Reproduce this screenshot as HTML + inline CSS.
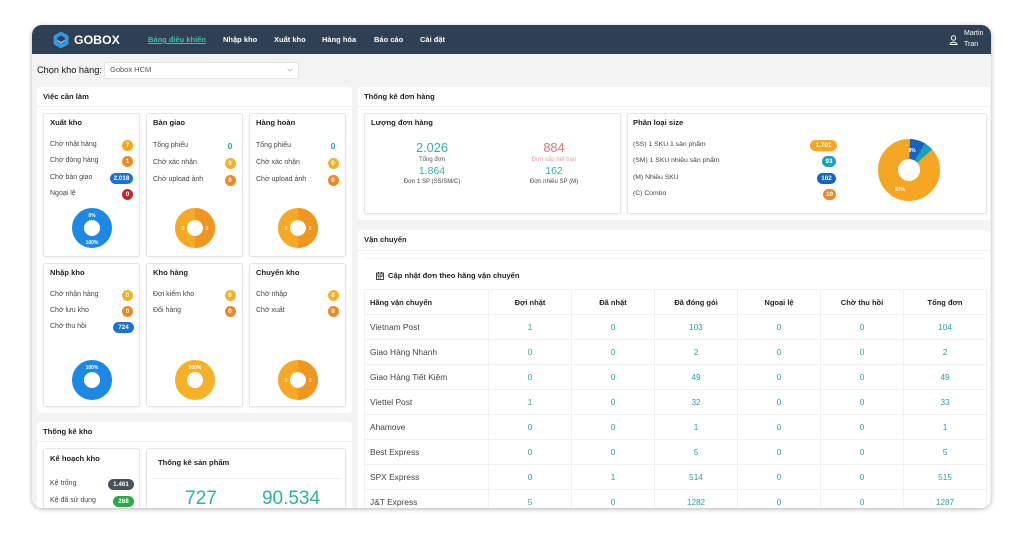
<!DOCTYPE html>
<html><head><meta charset="utf-8">
<style>
*{box-sizing:border-box;margin:0;padding:0}
body{width:1023px;height:533px;background:#fff;position:relative;overflow:hidden;font-family:"Liberation Sans","Noto Sans CJK SC",sans-serif;color:#333}
.frame{position:absolute;left:32px;top:25px;width:959px;height:483px;border-radius:10px;overflow:hidden;box-shadow:0 1px 5px rgba(0,0,0,.3);background:#f3f3f4}
.in{position:absolute;left:-32px;top:-25px;width:1023px;height:533px}
.a{position:absolute}
.t{position:absolute;white-space:nowrap;line-height:12px;height:12px}
.panel{position:absolute;background:#fff;border-radius:3px}
.card{position:absolute;background:#fff;border:1px solid #e4e4e4;border-radius:3px;box-shadow:0 1px 2px rgba(0,0,0,.06)}
.h{font-weight:bold;font-size:7.6px;color:#222}
.lbl{font-size:7px;color:#444}
.b{position:absolute;height:11px;border-radius:6px;color:#fff;font-size:6.3px;line-height:11px;text-align:center;font-weight:bold}
.nav{font-weight:bold;font-size:7.5px;color:#fff;top:34px}
.sep{position:absolute;height:1px;background:#efefef}
.teal{color:#26a69a}
table{position:absolute;left:364px;top:289px;width:622px;border-collapse:collapse;table-layout:fixed}
td,th{height:25px;border:1px solid #f1f1f1;text-align:center;vertical-align:middle;font-size:8.2px;white-space:nowrap}
th{font-weight:bold;font-size:7.5px;color:#222}
td{color:#26a69a}
td.n,th.n{text-align:left;padding-left:5px;color:#444;font-size:8.4px}
th.n{color:#222;font-size:7.5px}
</style></head>
<body>
<div class="frame"><div class="in">

<!-- header -->
<div class="a" style="left:32px;top:25px;width:959px;height:29px;background:#2f4055"></div>
<svg class="a" style="left:52px;top:31px" width="18" height="18" viewBox="0 0 18 18">
<polygon points="9,0.5 16.5,4.8 16.5,13.2 9,17.5 1.5,13.2 1.5,4.8" fill="#2f9be3"/>
<polygon points="9,4.5 12.8,6.7 12.8,11.3 9,13.5 5.2,11.3 5.2,6.7" fill="#2f4055"/>
<path d="M5.2,9.5 L9,12 L12.8,9.5" stroke="#7cc7f3" stroke-width="1.6" fill="none"/>
</svg>
<div class="t" style="left:74px;top:33px;font-size:12.3px;line-height:14px;height:14px;font-weight:bold;color:#fff">GOBOX</div>
<div class="t nav" style="left:148px;color:#3dbfa4;text-decoration:underline">Bảng điều khiển</div>
<div class="t nav" style="left:223px">Nhập kho</div>
<div class="t nav" style="left:274px">Xuất kho</div>
<div class="t nav" style="left:322px">Hàng hóa</div>
<div class="t nav" style="left:374px">Báo cáo</div>
<div class="t nav" style="left:420px">Cài đặt</div>
<svg class="a" style="left:949px;top:35px" width="9" height="10" viewBox="0 0 9 10">
<circle cx="4.5" cy="3" r="2.2" fill="none" stroke="#fff" stroke-width="1"/>
<path d="M1,9.5 C1,6.5 8,6.5 8,9.5 Z" fill="none" stroke="#fff" stroke-width="1"/>
</svg>
<div class="t" style="left:964px;top:28px;font-size:7px;color:#fff">Martin</div>
<div class="t" style="left:964px;top:39px;font-size:7px;color:#fff">Tran</div>

<!-- select -->
<div class="t" style="left:37px;top:64px;font-size:9.2px;color:#111">Chọn kho hàng:</div>
<div class="a" style="left:104px;top:62px;width:195px;height:17px;background:#fff;border:1px solid #e3e3e3;border-radius:3px"></div>
<div class="t" style="left:110px;top:64px;font-size:7.5px;color:#555">Gobox HCM</div>
<svg class="a" style="left:287px;top:68px" width="6" height="4"><polyline points="0.5,0.5 3,3 5.5,0.5" fill="none" stroke="#bbb" stroke-width="0.8"/></svg>

<!-- Việc cần làm -->
<div class="panel" style="left:37px;top:87px;width:315px;height:326px"></div>
<div class="t h" style="left:43px;top:91px">Việc cần làm</div>
<div class="sep" style="left:37px;top:106px;width:315px"></div>

<div class="card" style="left:43px;top:113px;width:97px;height:144px"></div>
<div class="card" style="left:146px;top:113px;width:97px;height:144px"></div>
<div class="card" style="left:249px;top:113px;width:97px;height:144px"></div>
<div class="card" style="left:43px;top:263px;width:97px;height:144px"></div>
<div class="card" style="left:146px;top:263px;width:97px;height:144px"></div>
<div class="card" style="left:249px;top:263px;width:97px;height:144px"></div>

<div class="t h" style="left:50px;top:117px">Xuất kho</div>
<div class="t lbl" style="left:50px;top:139px">Chờ nhặt hàng</div>
<div class="b" style="left:122px;top:139.5px;width:11px;background:#f5a623">7</div>
<div class="t lbl" style="left:50px;top:155px">Chờ đóng hàng</div>
<div class="b" style="left:122px;top:155.5px;width:11px;background:#e8892a">1</div>
<div class="t lbl" style="left:50px;top:172px">Chờ bàn giao</div>
<div class="b" style="left:110px;top:172.5px;width:23px;background:#1a73d0">2.018</div>
<div class="t lbl" style="left:50px;top:188px">Ngoại lệ</div>
<div class="b" style="left:122px;top:188.5px;width:11px;background:#c62828">0</div>
<svg class="a" style="left:71.5px;top:207.5px" width="40" height="40" viewBox="0 0 40 40">
<circle cx="20" cy="20" r="14" fill="none" stroke="#1e88e5" stroke-width="12"/>
<text x="20" y="9" font-size="5" font-weight="bold" fill="#fff" text-anchor="middle" font-family="Liberation Sans">0%</text>
<text x="20" y="36" font-size="5" font-weight="bold" fill="#fff" text-anchor="middle" font-family="Liberation Sans">100%</text>
</svg>

<div class="t h" style="left:153px;top:117px">Bàn giao</div>
<div class="t lbl" style="left:153px;top:140px">Tổng phiếu</div>
<div class="t teal" style="left:224px;top:140px;width:12px;text-align:center;font-size:8.5px;font-weight:bold">0</div>
<div class="t lbl" style="left:153px;top:157px">Chờ xác nhận</div>
<div class="b" style="left:224.5px;top:157.5px;width:11px;background:#f3b128">0</div>
<div class="t lbl" style="left:153px;top:174px">Chờ upload ảnh</div>
<div class="b" style="left:224.5px;top:174.5px;width:11px;background:#e8892a">0</div>
<svg class="a" style="left:174.5px;top:207.5px" width="40" height="40" viewBox="0 0 40 40">
<circle cx="20" cy="20" r="14" fill="none" stroke="#f6a925" stroke-width="12"/>
<circle cx="20" cy="20" r="14" fill="none" stroke="#f0951f" stroke-width="12" stroke-dasharray="43.98 100" transform="rotate(-90 20 20)"/>
<text x="8" y="22" font-size="5" fill="#fff" text-anchor="middle" font-family="Liberation Sans">0</text>
<text x="32" y="22" font-size="5" fill="#fff" text-anchor="middle" font-family="Liberation Sans">0</text>
</svg>

<div class="t h" style="left:256px;top:117px">Hàng hoàn</div>
<div class="t lbl" style="left:256px;top:140px">Tổng phiếu</div>
<div class="t teal" style="left:327px;top:140px;width:12px;text-align:center;font-size:8.5px;font-weight:bold">0</div>
<div class="t lbl" style="left:256px;top:157px">Chờ xác nhận</div>
<div class="b" style="left:327.5px;top:157.5px;width:11px;background:#f3b128">0</div>
<div class="t lbl" style="left:256px;top:174px">Chờ upload ảnh</div>
<div class="b" style="left:327.5px;top:174.5px;width:11px;background:#e8892a">0</div>
<svg class="a" style="left:277.5px;top:207.5px" width="40" height="40" viewBox="0 0 40 40">
<circle cx="20" cy="20" r="14" fill="none" stroke="#f6a925" stroke-width="12"/>
<circle cx="20" cy="20" r="14" fill="none" stroke="#f0951f" stroke-width="12" stroke-dasharray="43.98 100" transform="rotate(-90 20 20)"/>
<text x="8" y="22" font-size="5" fill="#fff" text-anchor="middle" font-family="Liberation Sans">0</text>
<text x="32" y="22" font-size="5" fill="#fff" text-anchor="middle" font-family="Liberation Sans">0</text>
</svg>

<div class="t h" style="left:50px;top:267px">Nhập kho</div>
<div class="t lbl" style="left:50px;top:289px">Chờ nhận hàng</div>
<div class="b" style="left:122px;top:289.5px;width:11px;background:#f3b128">0</div>
<div class="t lbl" style="left:50px;top:305px">Chờ lưu kho</div>
<div class="b" style="left:122px;top:305.5px;width:11px;background:#e8892a">0</div>
<div class="t lbl" style="left:50px;top:321px">Chờ thu hồi</div>
<div class="b" style="left:113px;top:321.5px;width:21px;background:#1a73d0">724</div>
<svg class="a" style="left:71.5px;top:359.5px" width="40" height="40" viewBox="0 0 40 40">
<circle cx="20" cy="20" r="14" fill="none" stroke="#1e88e5" stroke-width="12"/>
<text x="20" y="9" font-size="5" font-weight="bold" fill="#fff" text-anchor="middle" font-family="Liberation Sans">100%</text>
</svg>

<div class="t h" style="left:153px;top:267px">Kho hàng</div>
<div class="t lbl" style="left:153px;top:289px">Đợi kiểm kho</div>
<div class="b" style="left:224.5px;top:289.5px;width:11px;background:#f3b128">0</div>
<div class="t lbl" style="left:153px;top:305px">Đổi hàng</div>
<div class="b" style="left:224.5px;top:305.5px;width:11px;background:#e8892a">0</div>
<svg class="a" style="left:174.5px;top:359.5px" width="40" height="40" viewBox="0 0 40 40">
<circle cx="20" cy="20" r="14" fill="none" stroke="#f5b12a" stroke-width="12"/>
<text x="20" y="9" font-size="5" font-weight="bold" fill="#fff" text-anchor="middle" font-family="Liberation Sans">100%</text>
</svg>

<div class="t h" style="left:256px;top:267px">Chuyển kho</div>
<div class="t lbl" style="left:256px;top:289px">Chờ nhập</div>
<div class="b" style="left:327.5px;top:289.5px;width:11px;background:#f3b128">0</div>
<div class="t lbl" style="left:256px;top:305px">Chờ xuất</div>
<div class="b" style="left:327.5px;top:305.5px;width:11px;background:#e8892a">0</div>
<svg class="a" style="left:277.5px;top:359.5px" width="40" height="40" viewBox="0 0 40 40">
<circle cx="20" cy="20" r="14" fill="none" stroke="#f6a925" stroke-width="12"/>
<circle cx="20" cy="20" r="14" fill="none" stroke="#f0951f" stroke-width="12" stroke-dasharray="43.98 100" transform="rotate(-90 20 20)"/>
<text x="8" y="22" font-size="5" fill="#fff" text-anchor="middle" font-family="Liberation Sans">0</text>
<text x="32" y="22" font-size="5" fill="#fff" text-anchor="middle" font-family="Liberation Sans">0</text>
</svg>

<!-- Thống kê kho -->
<div class="panel" style="left:37px;top:422px;width:315px;height:110px"></div>
<div class="t h" style="left:43px;top:426px">Thống kê kho</div>
<div class="sep" style="left:37px;top:441px;width:315px"></div>
<div class="card" style="left:43px;top:448px;width:97px;height:80px"></div>
<div class="t h" style="left:50px;top:453px">Kế hoạch kho</div>
<div class="t lbl" style="left:50px;top:478px">Kệ trống</div>
<div class="b" style="left:108px;top:478.5px;width:26px;background:#4a5057">1.461</div>
<div class="t lbl" style="left:50px;top:495px">Kệ đã sử dụng</div>
<div class="b" style="left:113px;top:495.5px;width:21px;background:#2aa84a">268</div>
<div class="card" style="left:146px;top:448px;width:200px;height:80px"></div>
<div class="t h" style="left:158px;top:457px">Thống kê sản phẩm</div>
<div class="sep" style="left:151px;top:478px;width:190px"></div>
<div class="t" style="left:161px;top:488px;width:80px;text-align:center;font-size:19px;line-height:22px;height:22px;color:#2bb3a0">727</div>
<div class="t" style="left:241px;top:488px;width:100px;text-align:center;font-size:19px;line-height:22px;height:22px;color:#2bb3a0">90.534</div>

<!-- Thống kê đơn hàng -->
<div class="panel" style="left:358px;top:87px;width:632px;height:133px"></div>
<div class="t h" style="left:364px;top:91px">Thống kê đơn hàng</div>
<div class="sep" style="left:358px;top:106px;width:632px"></div>
<div class="card" style="left:364px;top:113px;width:257px;height:101px"></div>
<div class="t h" style="left:371px;top:117px">Lượng đơn hàng</div>
<div class="t" style="left:392px;top:141px;width:80px;text-align:center;font-size:12.8px;line-height:14px;height:14px;color:#3aaea0">2.026</div>
<div class="t" style="left:392px;top:154px;width:80px;text-align:center;font-size:6px;color:#555">Tổng đơn</div>
<div class="t" style="left:392px;top:165px;width:80px;text-align:center;font-size:10.5px;line-height:12px;color:#3aaea0">1.864</div>
<div class="t" style="left:382px;top:176px;width:100px;text-align:center;font-size:6px;color:#444">Đơn 1 SP (SS/SM/C)</div>
<div class="t" style="left:514px;top:141px;width:80px;text-align:center;font-size:12.8px;line-height:14px;height:14px;color:#d97b7b">884</div>
<div class="t" style="left:514px;top:154px;width:80px;text-align:center;font-size:6px;color:#eb9a9a">Đơn sắp hết hạn</div>
<div class="t" style="left:514px;top:165px;width:80px;text-align:center;font-size:10.5px;line-height:12px;color:#3aaea0">162</div>
<div class="t" style="left:504px;top:176px;width:100px;text-align:center;font-size:6px;color:#444">Đơn nhiều SP (M)</div>

<div class="card" style="left:627px;top:113px;width:360px;height:101px"></div>
<div class="t h" style="left:633px;top:117px">Phân loại size</div>
<div class="t lbl" style="left:633px;top:139px;font-size:6.8px">(SS) 1 SKU 1 sản phẩm</div>
<div class="b" style="left:810px;top:139.5px;width:27px;background:#f5a623">1.701</div>
<div class="t lbl" style="left:633px;top:155px;font-size:6.8px">(SM) 1 SKU nhiều sản phẩm</div>
<div class="b" style="left:822px;top:155.5px;width:14px;background:#17a2b8">93</div>
<div class="t lbl" style="left:633px;top:172px;font-size:6.8px">(M) Nhiều SKU</div>
<div class="b" style="left:817px;top:172.5px;width:19px;background:#1565c0">162</div>
<div class="t lbl" style="left:633px;top:188px;font-size:6.8px">(C) Combo</div>
<div class="b" style="left:823px;top:188.5px;width:13px;background:#e8892a">10</div>
<svg class="a" style="left:878px;top:139px" width="62" height="62" viewBox="0 0 62 62">
<circle cx="31" cy="31" r="21" fill="none" stroke="#f5a623" stroke-width="20"/>
<circle cx="31" cy="31" r="21" fill="none" stroke="#1565c0" stroke-width="20" stroke-dasharray="0 0.7 10.8 200" transform="rotate(-90 31 31)"/>
<circle cx="31" cy="31" r="21" fill="none" stroke="#17a2b8" stroke-width="20" stroke-dasharray="0 11.5 6.2 200" transform="rotate(-90 31 31)"/>
<text x="34" y="13" font-size="5" font-weight="bold" fill="#fff" text-anchor="middle" font-family="Liberation Sans">8%</text>
<text x="22" y="52" font-size="5" font-weight="bold" fill="#fff" text-anchor="middle" font-family="Liberation Sans">87%</text>
</svg>

<!-- Vận chuyển -->
<div class="panel" style="left:358px;top:230px;width:632px;height:300px"></div>
<div class="t h" style="left:364px;top:234px">Vận chuyển</div>
<div class="sep" style="left:358px;top:250px;width:632px"></div>
<div class="sep" style="left:364px;top:258px;width:622px;background:#f3f3f3"></div>
<svg class="a" style="left:376px;top:272px" width="8" height="8" viewBox="0 0 8 8">
<rect x="0.5" y="1" width="7" height="6.5" fill="none" stroke="#333" stroke-width="0.9"/>
<line x1="0.5" y1="3" x2="7.5" y2="3" stroke="#333" stroke-width="0.9"/>
<line x1="2.5" y1="0" x2="2.5" y2="2" stroke="#333" stroke-width="0.9"/>
<line x1="5.5" y1="0" x2="5.5" y2="2" stroke="#333" stroke-width="0.9"/>
<rect x="1.8" y="4" width="1.2" height="1" fill="#333"/><rect x="3.6" y="4" width="1.2" height="1" fill="#333"/><rect x="5.2" y="4" width="1.2" height="1" fill="#333"/>
<rect x="1.8" y="5.6" width="1.2" height="1" fill="#333"/><rect x="3.6" y="5.6" width="1.2" height="1" fill="#333"/>
</svg>
<div class="t h" style="left:388px;top:270px">Cập nhật đơn theo hãng vận chuyển</div>

<table>
<colgroup><col style="width:124px"><col style="width:83px"><col style="width:83px"><col style="width:83px"><col style="width:83px"><col style="width:83px"><col style="width:83px"></colgroup>
<tr><th class="n">Hãng vận chuyển</th><th>Đợi nhặt</th><th>Đã nhặt</th><th>Đã đóng gói</th><th>Ngoại lệ</th><th>Chờ thu hồi</th><th>Tổng đơn</th></tr>
<tr><td class="n">Vietnam Post</td><td>1</td><td>0</td><td>103</td><td>0</td><td>0</td><td>104</td></tr>
<tr><td class="n">Giao Hàng Nhanh</td><td>0</td><td>0</td><td>2</td><td>0</td><td>0</td><td>2</td></tr>
<tr><td class="n">Giao Hàng Tiết Kiệm</td><td>0</td><td>0</td><td>49</td><td>0</td><td>0</td><td>49</td></tr>
<tr><td class="n">Viettel Post</td><td>1</td><td>0</td><td>32</td><td>0</td><td>0</td><td>33</td></tr>
<tr><td class="n">Ahamove</td><td>0</td><td>0</td><td>1</td><td>0</td><td>0</td><td>1</td></tr>
<tr><td class="n">Best Express</td><td>0</td><td>0</td><td>5</td><td>0</td><td>0</td><td>5</td></tr>
<tr><td class="n">SPX Express</td><td>0</td><td>1</td><td>514</td><td>0</td><td>0</td><td>515</td></tr>
<tr><td class="n">J&amp;T Express</td><td>5</td><td>0</td><td>1282</td><td>0</td><td>0</td><td>1287</td></tr>
</table>

</div></div>
</body></html>
